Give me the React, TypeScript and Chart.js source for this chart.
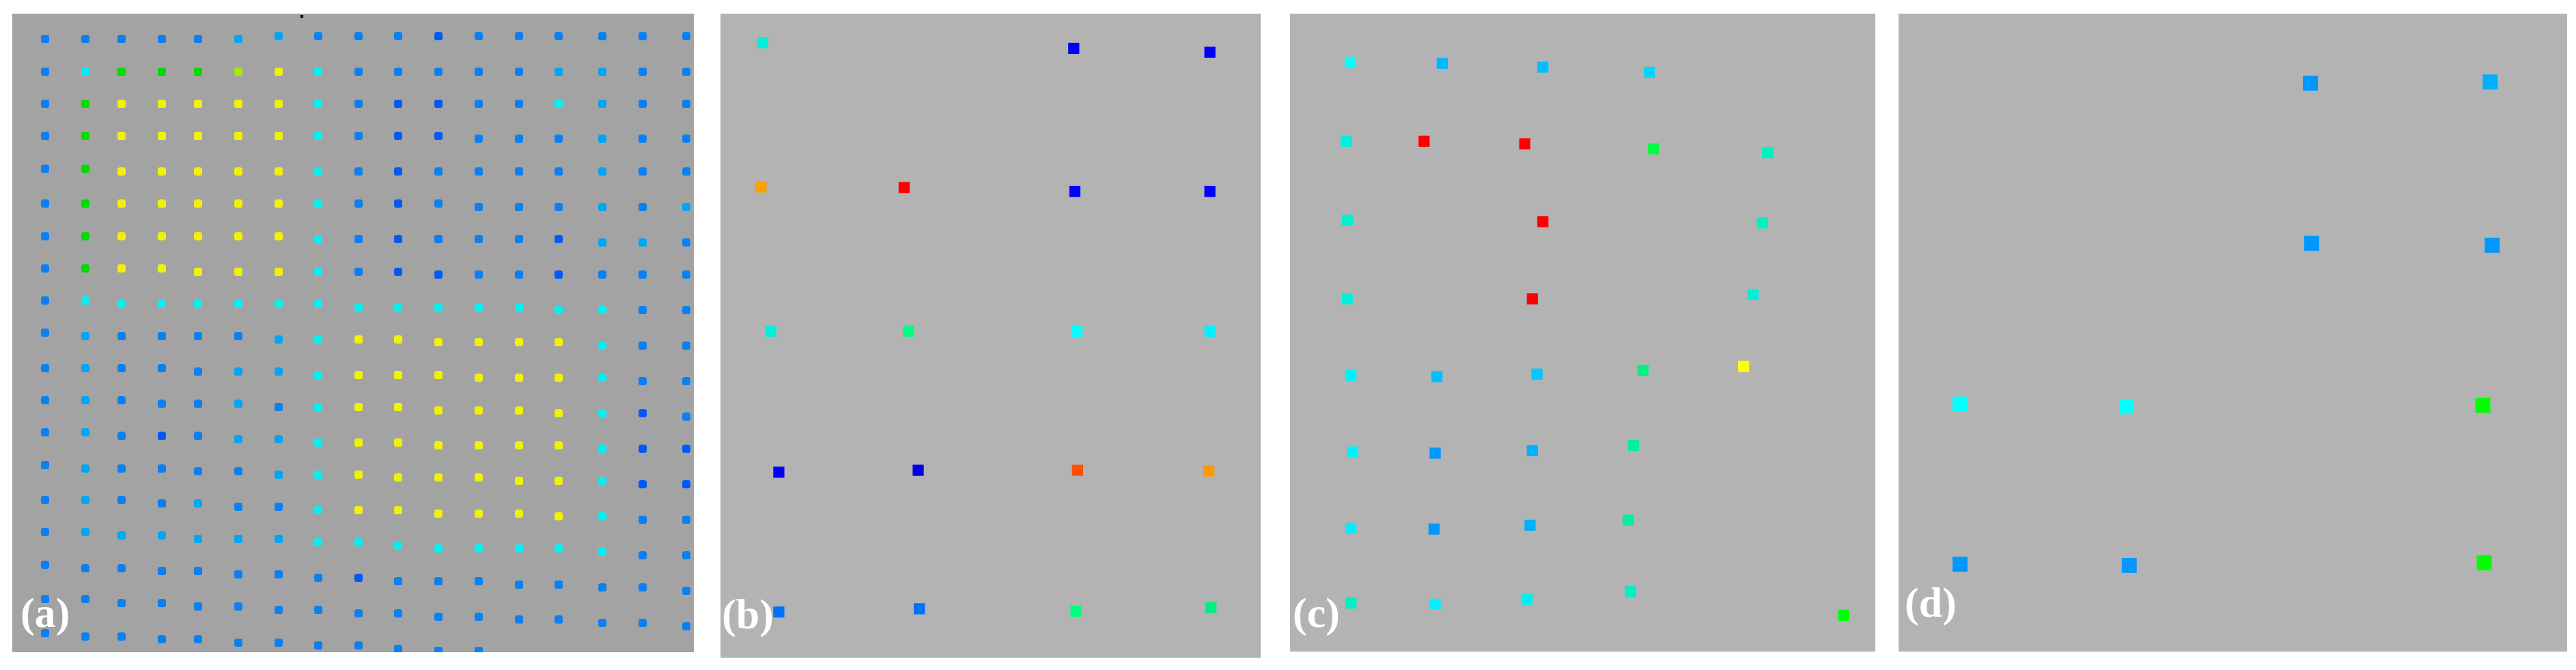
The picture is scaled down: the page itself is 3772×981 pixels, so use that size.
import React, { useEffect, useRef } from "react";
import { Chart, registerables } from "chart.js";

Chart.register(...registerables);

// ---------- Panel (a): regular grid of samples ----------
const aColumnsX = [48, 107, 160, 219, 272, 331, 390, 448, 507, 565, 624, 683, 742, 800, 864, 923, 987];
const aRowsY: number[][] = [
  [37, 37, 37, 37, 37, 37, 33, 33, 33, 33, 33, 33, 33, 33, 33, 33, 33],
  [85, 85, 85, 85, 85, 85, 85, 85, 85, 85, 85, 85, 85, 85, 85, 85, 85],
  [132, 132, 132, 132, 132, 132, 132, 132, 132, 132, 132, 132, 132, 132, 132, 132, 132],
  [179, 179, 179, 179, 179, 179, 179, 179, 179, 179, 179, 183, 183, 183, 183, 183, 183],
  [227, 227, 231, 231, 231, 231, 231, 231, 231, 231, 231, 231, 231, 231, 231, 231, 231],
  [278, 278, 278, 278, 278, 278, 278, 278, 278, 278, 278, 283, 283, 283, 283, 283, 283],
  [326, 326, 326, 326, 326, 326, 326, 330, 330, 330, 330, 330, 330, 330, 335, 335, 335],
  [373, 373, 373, 373, 378, 378, 378, 378, 378, 378, 382, 382, 382, 382, 382, 382, 382],
  [420, 420, 425, 425, 425, 425, 425, 425, 430, 430, 430, 430, 430, 434, 434, 434, 434],
  [467, 472, 472, 472, 472, 472, 477, 477, 477, 477, 481, 481, 481, 481, 486, 486, 486],
  [519, 519, 519, 519, 524, 524, 524, 529, 529, 529, 529, 533, 533, 533, 533, 538, 538],
  [566, 566, 566, 571, 571, 571, 576, 576, 576, 576, 581, 581, 581, 585, 585, 585, 590],
  [613, 613, 618, 618, 618, 623, 623, 628, 628, 628, 632, 632, 632, 632, 637, 637, 637],
  [661, 666, 666, 666, 670, 670, 675, 675, 675, 679, 679, 679, 684, 684, 684, 689, 689],
  [712, 712, 712, 717, 717, 722, 722, 727, 727, 727, 732, 732, 732, 736, 736, 741, 741],
  [759, 759, 764, 764, 769, 769, 769, 774, 774, 779, 783, 783, 783, 783, 788, 793, 793],
  [807, 812, 812, 816, 816, 821, 821, 826, 826, 831, 831, 831, 836, 836, 840, 840, 845],
  [857, 857, 863, 863, 868, 868, 873, 873, 878, 878, 883, 883, 887, 887, 892, 892, 897],
  [907, 912, 912, 916, 916, 921, 921, 925, 925, 930, 933, 933],
];
// class code of every sample, one string per row
const aRowClasses = [
  "BBBBBLLBBBDBBBBBB",
  "BCGGGgYCBBBBBLLBB",
  "BGYYYYYCBDDBBCLBB",
  "BGYYYYYCBDDBBBLBB",
  "BGYYYYYCBDBBBBLBB",
  "BGYYYYYCBDBBBBLBL",
  "BGYYYYYCBDBBBDLLB",
  "BGYYYYYCBDDBBDBBB",
  "BCCCCCCCCCCCCCCBB",
  "BLBBBBLCYYYYYYCBB",
  "BLBBBLLCYYYYYYCBB",
  "BLBBBLBCYYYYYYCDB",
  "BLBDBLLCYYYYYYCDD",
  "BLBBBBLCYYYYYYCDD",
  "BLBBLBBCYYYYYYCBB",
  "BLLLLLLCCCCCCCCBB",
  "BBBBBBBBDBBBBBBBB",
  "BBBBBBBBBBBBBBBBB",
  "BBBBBBBBBBBB",
];
const aMarkX = [424];
const aMarkY = [4];

// ---------- Panel (b) ----------
const bX = [7.8, 65.4, 90.6, 7.5, 34.0, 65.6, 90.6, 9.3, 34.8, 66.0, 90.6, 10.8, 36.6, 66.1, 90.4, 10.8, 36.8, 65.8, 90.8];
const bY = [4.5, 5.4, 6.0, 26.9, 27.0, 27.6, 27.6, 49.3, 49.3, 49.3, 49.3, 71.2, 70.9, 70.9, 71.0, 92.9, 92.4, 92.8, 92.2];
const bColors = [
  "#00f0d8", "#0000ff", "#0000ff", "#ffa000", "#ff0000", "#0000ff", "#0000ff",
  "#00f0d8", "#00ff80", "#00ffff", "#00f0ff", "#0000ff", "#0000e8", "#ff5000",
  "#ff9a00", "#0070ff", "#0070ff", "#00ff80", "#00f080",
];

// ---------- Panel (c) ----------
const cX = [
  10.3, 26.0, 43.2, 61.4,
  9.6, 22.9, 40.1, 62.1, 81.6,
  9.8, 43.2, 80.7,
  9.8, 41.4, 79.1,
  10.4, 25.1, 42.2, 60.3, 77.5,
  10.7, 24.8, 41.4, 58.7,
  10.4, 24.6, 41.0, 57.8,
  10.4, 24.8, 40.5, 58.2, 94.6,
];
const cY = [
  7.6, 7.8, 8.4, 9.2,
  20.0, 20.0, 20.4, 21.2, 21.8,
  32.4, 32.6, 32.8,
  44.7, 44.7, 44.0,
  56.7, 56.9, 56.5, 55.9, 55.3,
  68.7, 68.9, 68.5, 67.7,
  80.7, 80.8, 80.2, 79.4,
  92.4, 92.6, 91.8, 90.6, 94.3,
];
const cColors = [
  "#00ffff", "#00b8ff", "#00c0ff", "#00d8ff",
  "#00f0e0", "#ff0000", "#ff0000", "#00ff40", "#00f0c0",
  "#00f0d0", "#ff0000", "#00f0c8",
  "#00f0d8", "#ff0000", "#00f0d8",
  "#00f0ff", "#00c0ff", "#00c8ff", "#00f080", "#ffff00",
  "#00f0ff", "#0098ff", "#00b0ff", "#00f0a0",
  "#00f0ff", "#0098ff", "#00b0ff", "#00f0a0",
  "#00f0c0", "#00f0ff", "#00f0f0", "#00f0c0", "#00ff00",
];

// ---------- Panel (d) ----------
const dX = [61.6, 88.5, 61.8, 88.8, 9.2, 34.1, 87.4, 9.2, 34.5, 87.6];
const dY = [10.9, 10.7, 36.0, 36.3, 61.2, 61.6, 61.4, 86.3, 86.5, 86.1];
const dColors = ["#0098ff", "#00b0ff", "#0098ff", "#0098ff", "#00ffff", "#00ffff", "#00ff00", "#0098ff", "#0098ff", "#00ff00"];

const panelLabels = ["(a)", "(b)", "(c)", "(d)"];

// ---------- styling ----------
const classColor: Record<string, string> = {
  B: "#0a80f2",
  D: "#005af6",
  L: "#00a6f6",
  C: "#00f2f2",
  G: "#00dc00",
  g: "#a6ec00",
  Y: "#f2f200",
};
const labelFont = 'bold 62px "Liberation Serif", "Times New Roman", "DejaVu Serif", serif';

const panelDecor = {
  id: "panelDecor",
  beforeDraw(chart: any, _a: any, opts: any) {
    const { ctx, chartArea } = chart;
    ctx.save();
    ctx.fillStyle = opts.bg;
    ctx.fillRect(chartArea.left, chartArea.top, chartArea.width, chartArea.height);
    ctx.restore();
  },
  afterDraw(chart: any, _a: any, opts: any) {
    const { ctx, chartArea } = chart;
    ctx.save();
    ctx.fillStyle = "#ffffff";
    ctx.font = opts.font;
    ctx.textBaseline = "alphabetic";
    ctx.textAlign = "left";
    ctx.fillText(opts.label, chartArea.left + opts.lx, chartArea.top + opts.ly);
    ctx.restore();
  },
};

function buildConfig(datasets: any[], xMax: number, yMax: number, decor: any) {
  return {
    type: "scatter",
    data: { datasets },
    options: {
      animation: false,
      responsive: false,
      maintainAspectRatio: false,
      devicePixelRatio: 1,
      layout: { padding: 0, autoPadding: false },
      events: [],
      scales: {
        x: { type: "linear", min: 0, max: xMax, display: false },
        y: { type: "linear", min: 0, max: yMax, reverse: true, display: false },
      },
      plugins: {
        legend: { display: false },
        tooltip: { enabled: false },
        panelDecor: decor,
      },
    },
    plugins: [panelDecor],
  } as any;
}

function configA() {
  const pts: { x: number; y: number }[] = [];
  const cols: string[] = [];
  aRowsY.forEach((row, r) => {
    row.forEach((y, c) => {
      pts.push({ x: aColumnsX[c], y });
      cols.push(classColor[aRowClasses[r][c]]);
    });
  });
  return buildConfig(
    [
      {
        data: pts,
        backgroundColor: cols,
        borderWidth: 0,
        pointStyle: "rectRounded",
        pointRadius: 7,
        clip: 0,
      },
      {
        data: aMarkX.map((x, i) => ({ x, y: aMarkY[i] })),
        backgroundColor: "#111111",
        borderWidth: 0,
        pointStyle: "rect",
        pointRadius: 3,
        clip: 0,
      },
    ],
    998,
    935,
    { bg: "#a3a3a3", label: panelLabels[0], font: labelFont, lx: 12, ly: 898 }
  );
}

function configSquares(xs: number[], ys: number[], colors: string[], radius: number, label: string, lx: number, ly: number) {
  return buildConfig(
    [
      {
        data: xs.map((x, i) => ({ x, y: ys[i] })),
        backgroundColor: colors,
        borderWidth: 0,
        pointStyle: "rect",
        pointRadius: radius,
        clip: 0,
      },
    ],
    100,
    100,
    { bg: "#b3b3b3", label, font: labelFont, lx, ly }
  );
}

function Panel(props: { left: number; top: number; width: number; height: number; make: () => any }) {
  const ref = useRef<HTMLCanvasElement>(null);
  useEffect(() => {
    const chart = new Chart(ref.current as HTMLCanvasElement, props.make());
    return () => chart.destroy();
  }, []);
  return (
    <canvas
      ref={ref}
      width={props.width}
      height={props.height}
      style={{ position: "absolute", left: props.left, top: props.top, width: props.width, height: props.height }}
    />
  );
}

export default function App() {
  return (
    <div style={{ position: "absolute", left: 0, top: 0, width: 3772, height: 981, background: "#ffffff" }}>
      <Panel left={18} top={20} width={998} height={935} make={configA} />
      <Panel left={1055} top={20} width={791} height={943} make={() => configSquares(bX, bY, bColors, 11.5, panelLabels[1], 2, 900)} />
      <Panel left={1889} top={20} width={857} height={934} make={() => configSquares(cX, cY, cColors, 11.5, panelLabels[2], 4, 898)} />
      <Panel left={2780} top={20} width={979} height={934} make={() => configSquares(dX, dY, dColors, 15.5, panelLabels[3], 9, 883)} />
    </div>
  );
}
